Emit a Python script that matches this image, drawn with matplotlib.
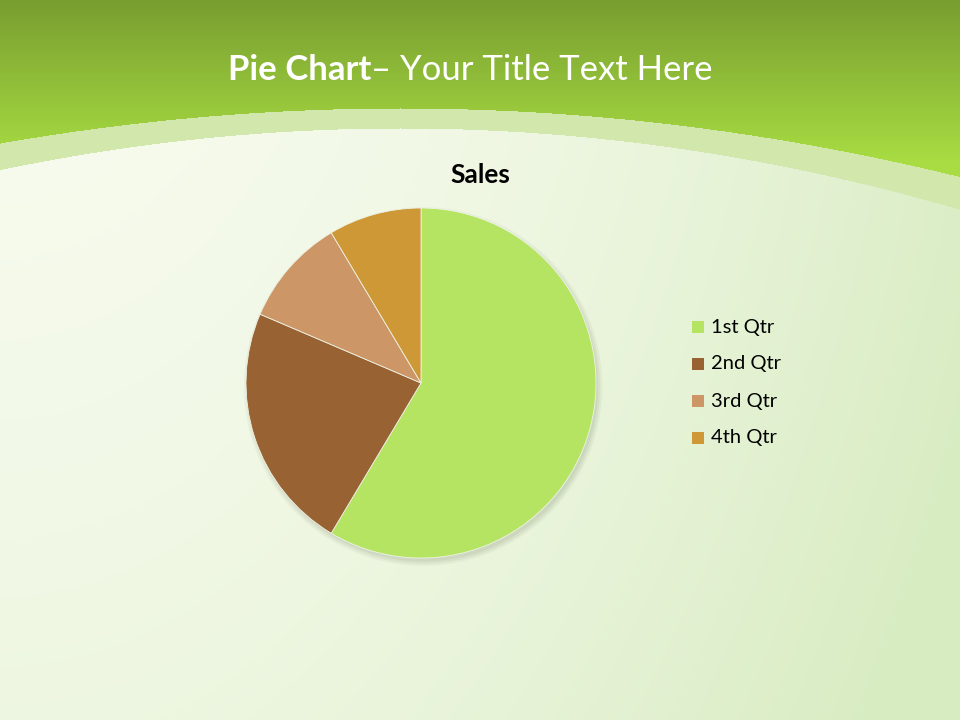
import numpy as np
import matplotlib.pyplot as plt
from matplotlib.patches import Rectangle, Circle

# --- data ---
categories = ["1st Qtr", "2nd Qtr", "3rd Qtr", "4th Qtr"]
sales = [8.2, 3.2, 1.4, 1.2]
colors = ["#B5E463", "#996233", "#CC9666", "#CF9836"]

W, H = 960, 720
fig = plt.figure(figsize=(9.6, 7.2), dpi=100)

# --- slide background (gradient + green header with curved bottom) ---
yy, xx = np.mgrid[0:H, 0:W].astype(float)
bg = np.zeros((H, W, 3))

# body: whitish top-left, greener to the right
body_top = np.array([247, 251, 238]) / 255
body_right = np.array([216, 236, 194]) / 255
t = np.clip((xx / W) ** 2.0 * 0.85 + (yy / H) ** 1.5 * 0.3, 0, 1)
for c in range(3):
    bg[..., c] = body_top[c] * (1 - t) + body_right[c] * t

# header
head_top = np.array([120, 158, 48]) / 255
head_bot = np.array([168, 220, 66]) / 255
s = np.clip(yy / 160, 0, 1)
head = np.zeros_like(bg)
for c in range(3):
    head[..., c] = head_top[c] * (1 - s) + head_bot[c] * s

band_edge = 108 + 2.19e-4 * (xx - 400) ** 2
white_edge = 128 + 2.6e-4 * (xx - 400) ** 2
band_col = np.array([210, 231, 172]) / 255

mask_head = yy < band_edge
mask_band = (yy >= band_edge) & (yy < white_edge)
bg[mask_head] = head[mask_head]
bg[mask_band] = band_col

bgax = fig.add_axes([0, 0, 1, 1])
bgax.imshow(bg, extent=[0, W, H, 0], aspect="auto")
bgax.set_xlim(0, W)
bgax.set_ylim(H, 0)
bgax.axis("off")

# title text
t1 = bgax.text(228, 70, "Pie Chart", fontsize=25, fontweight="bold", color="white",
               family="Lato", va="center", ha="left")
fig.canvas.draw()
ext = t1.get_window_extent()
x_end = bgax.transData.inverted().transform((ext.x1, ext.y0))[0]
bgax.text(x_end, 70, "– Your Title Text Here", fontsize=25, color="white",
          family="Lato", va="center", ha="left")
bgax.text(480, 175, "Sales", fontsize=19, fontweight="bold", color="black",
          family="Lato", va="center", ha="center")

# --- pie ---
ax = fig.add_axes([246 / W, 1 - 558 / H, 350 / W, 350 / H])
# soft drop shadow
for k, a in enumerate([0.06, 0.07, 0.08]):
    ax.add_patch(Circle((0.012, -0.02), 1.0 + 0.012 * (2 - k), facecolor="#5a6a4a",
                        alpha=a, edgecolor="none", zorder=0, clip_on=False))
wedges, _ = ax.pie(sales, colors=colors, startangle=90, counterclock=False, radius=1.0,
                   wedgeprops=dict(edgecolor="#eef3e6", linewidth=0.6))
for w in wedges:
    w.set_clip_on(False)
ax.set_xlim(-1, 1)
ax.set_ylim(-1, 1)
ax.set_aspect("equal")
ax.axis("off")

# --- legend ---
for i, (lab, col) in enumerate(zip(categories, colors)):
    y = 327 + i * 37
    bgax.add_patch(Rectangle((692, y - 6), 12, 12, facecolor=col, edgecolor="none"))
    bgax.text(711, y, lab, fontsize=14.5, color="black", family="Lato",
              va="center", ha="left")

fig.savefig("out.png", dpi=100)
